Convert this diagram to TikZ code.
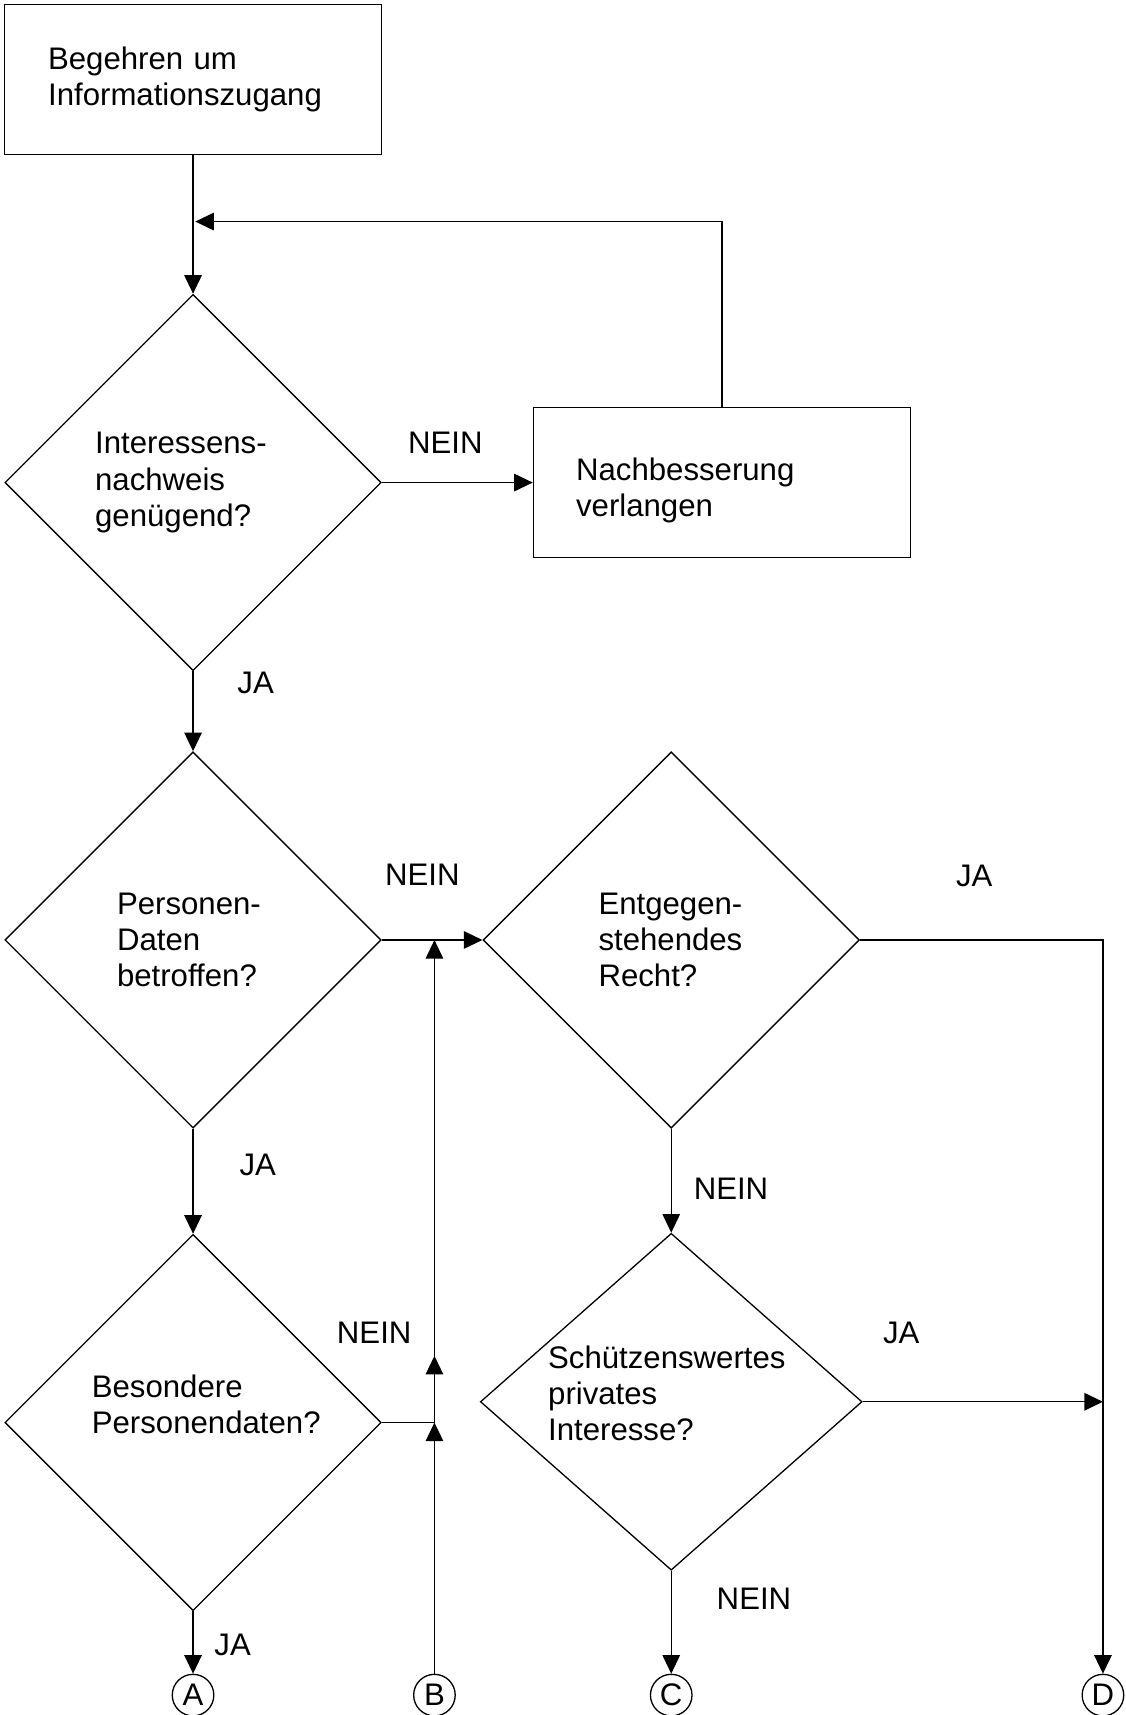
\documentclass[tikz,border=0pt]{standalone}
\usepackage{fontspec}
\setmainfont{Liberation Sans}
\usetikzlibrary{arrows.meta,positioning,shapes.geometric,calc}
\hyphenpenalty=10000
\exhyphenpenalty=10000

\begin{document}
\begin{tikzpicture}[
  x=1pt, y=1pt,
  font=\fontsize{28.5}{33}\selectfont,
  line width=1.2pt,
  box/.style={draw, align=left, minimum width=345pt, minimum height=137pt, text width=265pt},
  dec/.style={draw, diamond, align=left, inner sep=0pt, minimum width=344pt, minimum height=344pt},
  conn/.style={draw, circle, minimum size=38pt, inner sep=0pt},
  lbl/.style={inner sep=0pt},
  arr/.style={-{Triangle[length=17pt,width=16pt]}}
]
\useasboundingbox (0,0) rectangle (1029,-1568);

% --- request and check of interest ---
\node[box] (req) at (176.5,-72.5) {Begehren um\\Informationszugang};
\node[dec, text width=179pt, below=127pt of req] (proof) {Interessens-\\nachweis\\genügend?};
\node[box, text width=267pt, right=138pt of proof] (fix) {\mbox{}\\[2pt]Nachbesserung\\verlangen};

\draw[arr] (req) -- (proof);
\draw[arr] (proof) -- node[lbl, above=26pt, xshift=-11pt] {NEIN} (fix);
\coordinate (back) at ($(req.south)!0.48!(proof.north)$);
\draw[arr, shorten >=2pt] (fix) |- (back);

% --- decisions ---
\node[dec, text width=139pt, below=73pt of proof] (pers) {Personen-\\Daten\\betroffen?};
\node[dec, text width=133pt, right=92pt of pers] (law) {Entgegen-\\stehendes\\Recht?};
\node[dec, text width=185pt, below=96pt of pers] (spec) {Besondere\\Personendaten?\\\mbox{}};
\node[dec, text width=225pt, aspect=1.133, minimum width=349pt, minimum height=308pt, below=95pt of law] (priv) {Schützenswertes\\privates\\Interesse?\\[-17pt]\mbox{}};

% --- exits ---
\node[conn, below=57pt of spec] (A) {A};
\node[conn, right=181.5pt of A] (B) {B};
\node[conn, below=94pt of priv] (C) {C};
\node[conn, right=355.5pt of C] (D) {D};

\draw[arr] (proof) -- node[lbl, right=40pt, pos=0.15] {JA} (pers);
\draw[arr] (pers) -- node[lbl, above=49pt, xshift=-9pt] {NEIN} (law);
\draw[arr] (law) -| node[lbl, above=48pt, pos=0.235] {JA} (D);
\draw[arr] (law) -- node[lbl, right=20pt, pos=0.58] {NEIN} (priv);
\draw[arr] (pers) -- node[lbl, right=42pt, pos=0.34] {JA} (spec);

\coordinate (jB) at (B |- spec.east);
\coordinate (jN) at (B |- law.west);
\draw (spec) -- node[lbl, pos=0, above=72pt, xshift=-7pt] {NEIN} (jB);
\draw[arr] (B) -- (jB);
\draw[arr] (jB) -- (jN);
\draw[arr] (jB) -- ++(0,61);

\draw[arr] (spec) -- node[lbl, right=19pt, pos=0.54] {JA} (A);
\draw[arr] (priv) -- node[lbl, above=52pt, pos=0.16] {JA} (priv -| D);
\draw[arr] (priv) -- node[lbl, right=41pt, pos=0.27] {NEIN} (C);

\end{tikzpicture}
\end{document}
